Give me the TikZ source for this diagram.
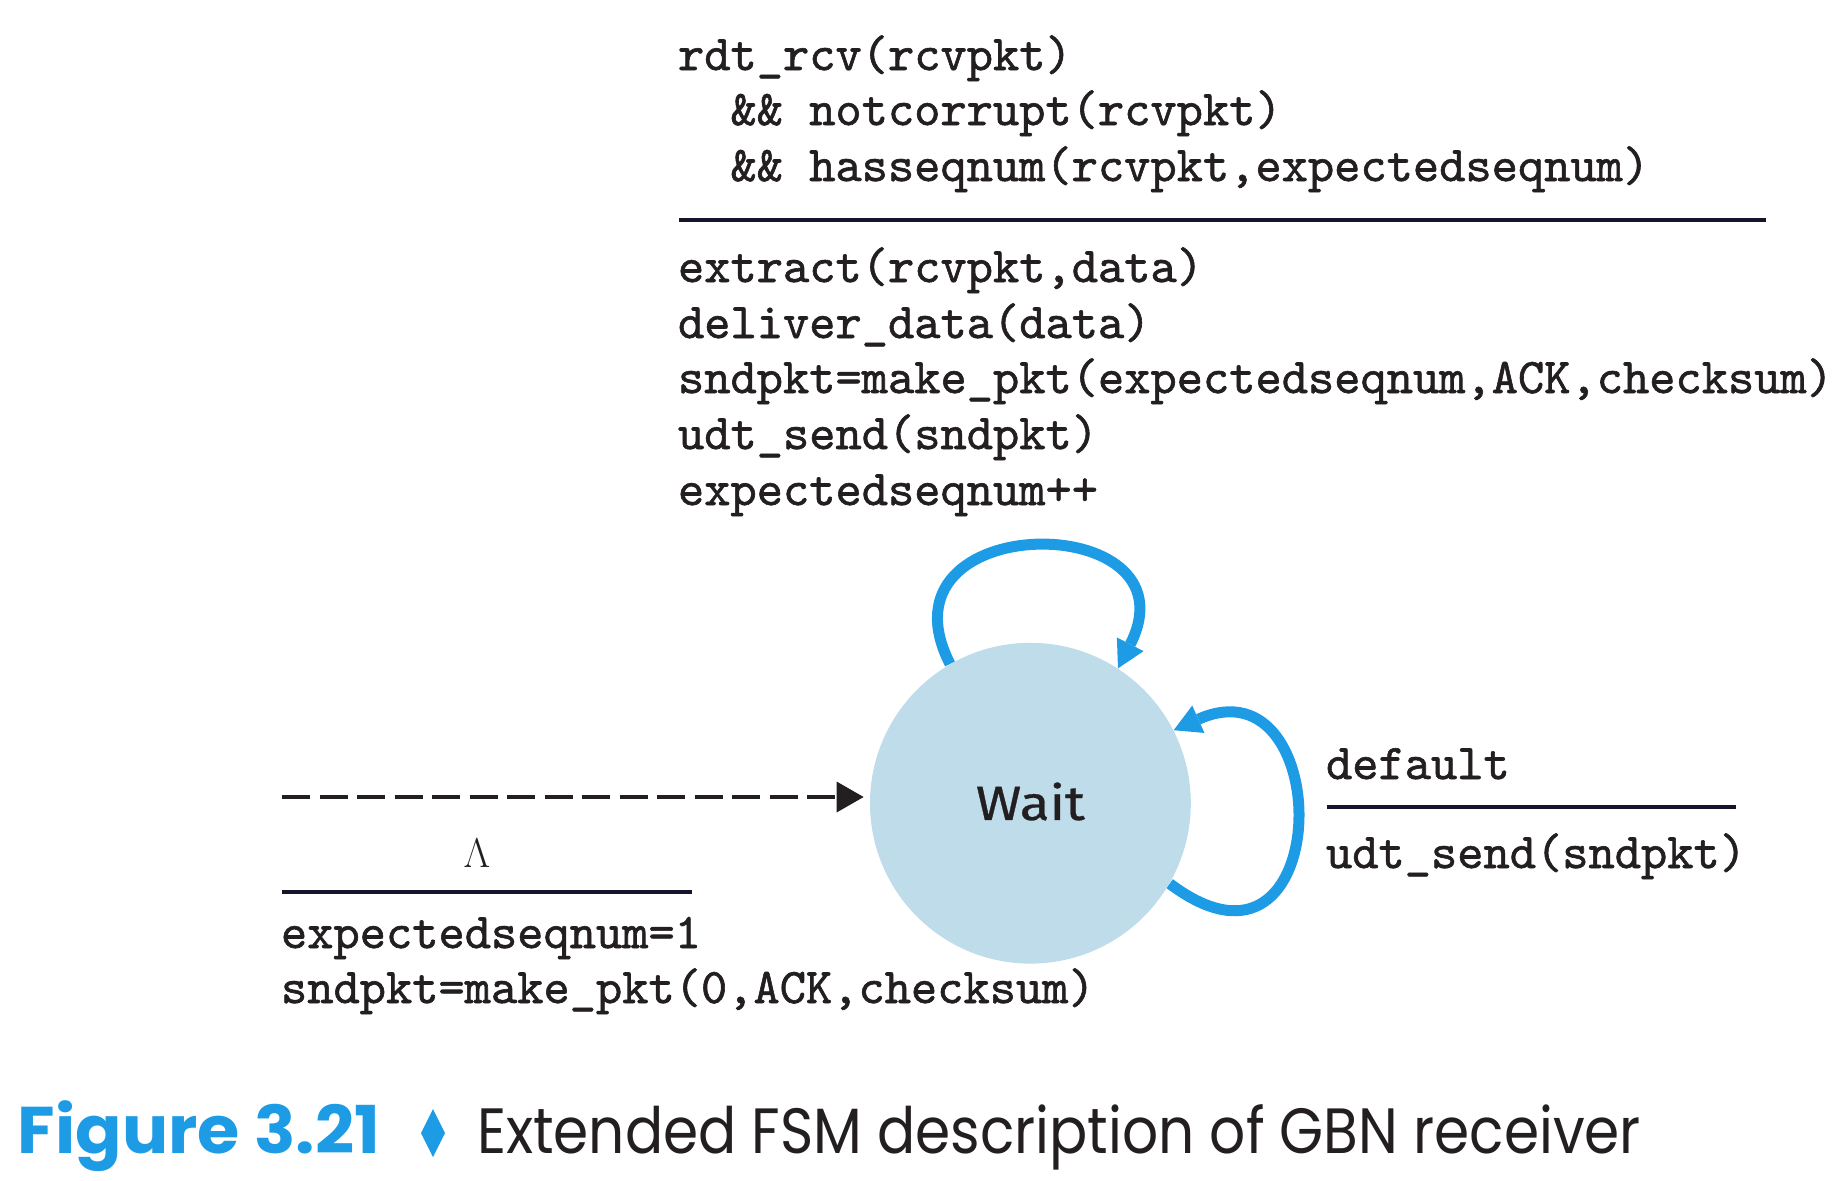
\documentclass[tikz,border=0pt]{standalone}
\usepackage{fontspec}
\usepackage{graphicx}
\usetikzlibrary{arrows.meta}
\newfontfamily\codefont{lmmono10-regular}[Extension=.otf, FakeBold=1.2]
\newfontfamily\waitfont{Fira Sans}[FakeBold=0.6]
\newfontfamily\capfont{Poppins}
\definecolor{fsmblue}{RGB}{29,155,229}
\definecolor{fsmfill}{RGB}{190,220,233}
\definecolor{inkc}{RGB}{35,31,32}
\definecolor{rulecol}{RGB}{20,20,45}
\pgfdeclarelayer{bg}
\pgfsetlayers{bg,main}
\begin{document}
\begin{tikzpicture}[x=0.5pt,y=-0.5pt,
  code/.style={anchor=base west, inner sep=0pt, outer sep=0pt, text=inkc,
    font=\codefont\fontsize{25}{26}\selectfont},
  rulebar/.style={draw=rulecol, line width=1.6pt},
  selfloop/.style={draw=fsmblue, line width=5.5pt,
    -{Triangle[length=13.5pt,width=15pt,line width=0pt]}},
  state/.style={circle, fill=fsmfill, minimum size=160.4pt, inner sep=0pt,
    text=inkc, font=\waitfont\fontsize{24}{24}\selectfont},
  initarrow/.style={draw=inkc, line width=1.65pt, dash pattern=on 14pt off 4.75pt,
    -{Triangle[length=13.5pt,width=15.5pt,line width=0pt]}},
  captext/.style={anchor=base west, inner sep=0pt, outer sep=0pt},
]
\useasboundingbox (0,0) rectangle (1836,1180);

% state
\node[state] (wait) at (1030.4,803.2) {\raisebox{2pt}{\resizebox{54.5pt}{\height}{Wait}}};

% self loops (under the state)
\begin{pgfonlayer}{bg}
\draw[selfloop] (wait.120) to[out=117,in=63,out distance=88pt,in distance=90pt] (wait.57);
\draw[selfloop] (wait.-30) to[out=-37,in=24,out distance=104pt,in distance=90pt] (wait.27);
\end{pgfonlayer}

% initial transition
\coordinate (init) at (282,797);
\draw[initarrow, shorten >=3pt] (init) -- (init -| wait.west);

% top label
\node[code] (t1) at (678,70) {rdt\_rcv(rcvpkt)};
\node[code] (t2) at (678,125) {\phantom{xx}\&\& notcorrupt(rcvpkt)};
\node[code] (t3) at (678,181) {\phantom{xx}\&\& hasseqnum(rcvpkt,expectedseqnum)};
\coordinate (r1a) at (679,220);
\coordinate (r1b) at (1766,220);
\draw[rulebar] (r1a) -- (r1b);
\node[code] (a1) at (678,282) {extract(rcvpkt,data)};
\node[code] (a2) at (678,338) {deliver\_data(data)};
\node[code] (a3) at (678,393) {sndpkt=make\_pkt(expectedseqnum,ACK,checksum)};
\node[code] (a4) at (678,449) {udt\_send(sndpkt)};
\node[code] (a5) at (678,505) {expectedseqnum++};

% right label
\node[code] (d1) at (1326,779) {default};
\coordinate (r2a) at (1327,807);
\coordinate (r2b) at (1736,807);
\draw[rulebar] (r2a) -- (r2b);
\node[code] (d2) at (1326,868) {udt\_send(sndpkt)};

% left label
\node[anchor=base, inner sep=0pt, text=inkc, font=\fontsize{21}{21}\selectfont] (lam) at (477,867) {$\Lambda$};
\coordinate (r3a) at (282,892);
\coordinate (r3b) at (692,892);
\draw[rulebar] (r3a) -- (r3b);
\node[code] (i1) at (281,948) {expectedseqnum=1};
\node[code] (i2) at (281,1003) {sndpkt=make\_pkt(0,ACK,checksum)};

% caption
\node[captext, text=fsmblue, font=\capfont\bfseries\fontsize{33}{33}\selectfont] (figno) at (18,1153) {\resizebox{181pt}{\height}{Figure 3.21}};
\fill[fsmblue] (433,1109) -- (445,1133) -- (433,1157) -- (421,1133) -- cycle;
\node[captext, text=inkc, font=\capfont\fontsize{32}{32}\selectfont] (captxt) at (477,1153) {\resizebox{582pt}{\height}{Extended FSM description of GBN receiver}};
\end{tikzpicture}
\end{document}
